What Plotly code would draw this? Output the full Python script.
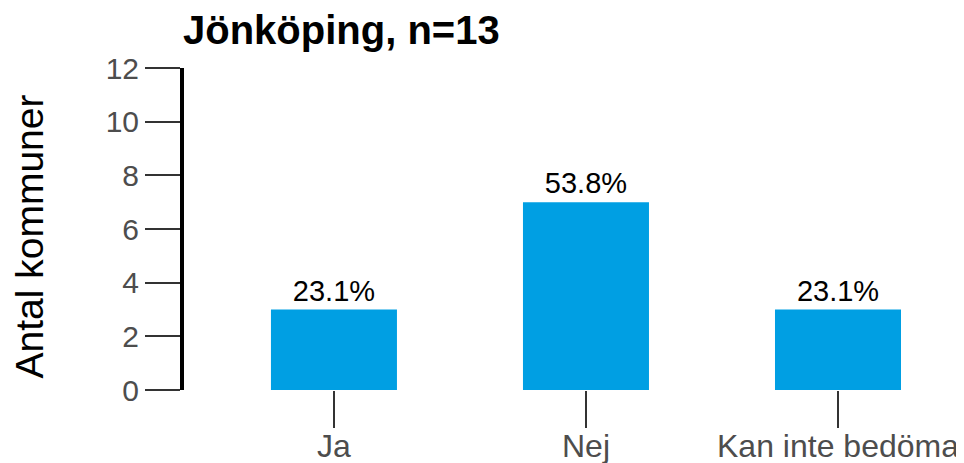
import plotly.graph_objects as go

categories = ["Ja", "Nej", "Kan inte bedöma"]
counts = [3, 7, 3]
labels = ["23.1%", "53.8%", "23.1%"]
y_ticks = [0, 2, 4, 6, 8, 10, 12]

# page has an 8px body margin; figure is sized to fit the 964x463 window
W, H = 956, 455
L, R, T, B = 176, 0, 60, 73
FONT = "Liberation Sans, Arial"

fig = go.Figure()
fig.add_trace(go.Bar(
    x=categories, y=counts, text=labels, textposition="outside",
    marker=dict(color="#009FE3", line=dict(width=0)), width=0.5,
    textfont=dict(family=FONT, size=29, color="black"),
    cliponaxis=False,
))

fig.update_layout(
    width=W, height=H,
    margin=dict(l=L, r=R, t=T, b=B, autoexpand=False),
    paper_bgcolor="white", plot_bgcolor="white",
    showlegend=False,
    font=dict(family=FONT),
    title=dict(text="<b>Jönköping, n=13</b>", x=175 / W, xanchor="left", xref="container",
               y=1 - 22 / H, yanchor="middle", yref="container",
               font=dict(size=40, color="black", family=FONT)),
    xaxis=dict(range=[-0.595, 2.5], showline=False, showgrid=False, zeroline=False,
               automargin=False,
               ticks="outside", ticklen=37, tickwidth=1.5, tickcolor="#333333",
               ticklabelstandoff=-9,
               tickfont=dict(size=32, color="#4d4d4d")),
    yaxis=dict(range=[0, 12], tickvals=y_ticks, showgrid=False, zeroline=False,
               automargin=False,
               showline=True, linewidth=4, linecolor="black",
               ticks="outside", ticklen=35, tickwidth=1.5, tickcolor="#333333",
               tickfont=dict(size=30, color="#4d4d4d")),
    annotations=[dict(text="Antal kommuner", textangle=-90, x=(21 - L) / (W - L - R),
                      xref="paper", y=(H - B - 228.5) / (H - T - B),
                      yref="paper", xanchor="center", yanchor="middle", showarrow=False,
                      font=dict(size=39, color="black"))],
)

fig.write_html("out.html")
